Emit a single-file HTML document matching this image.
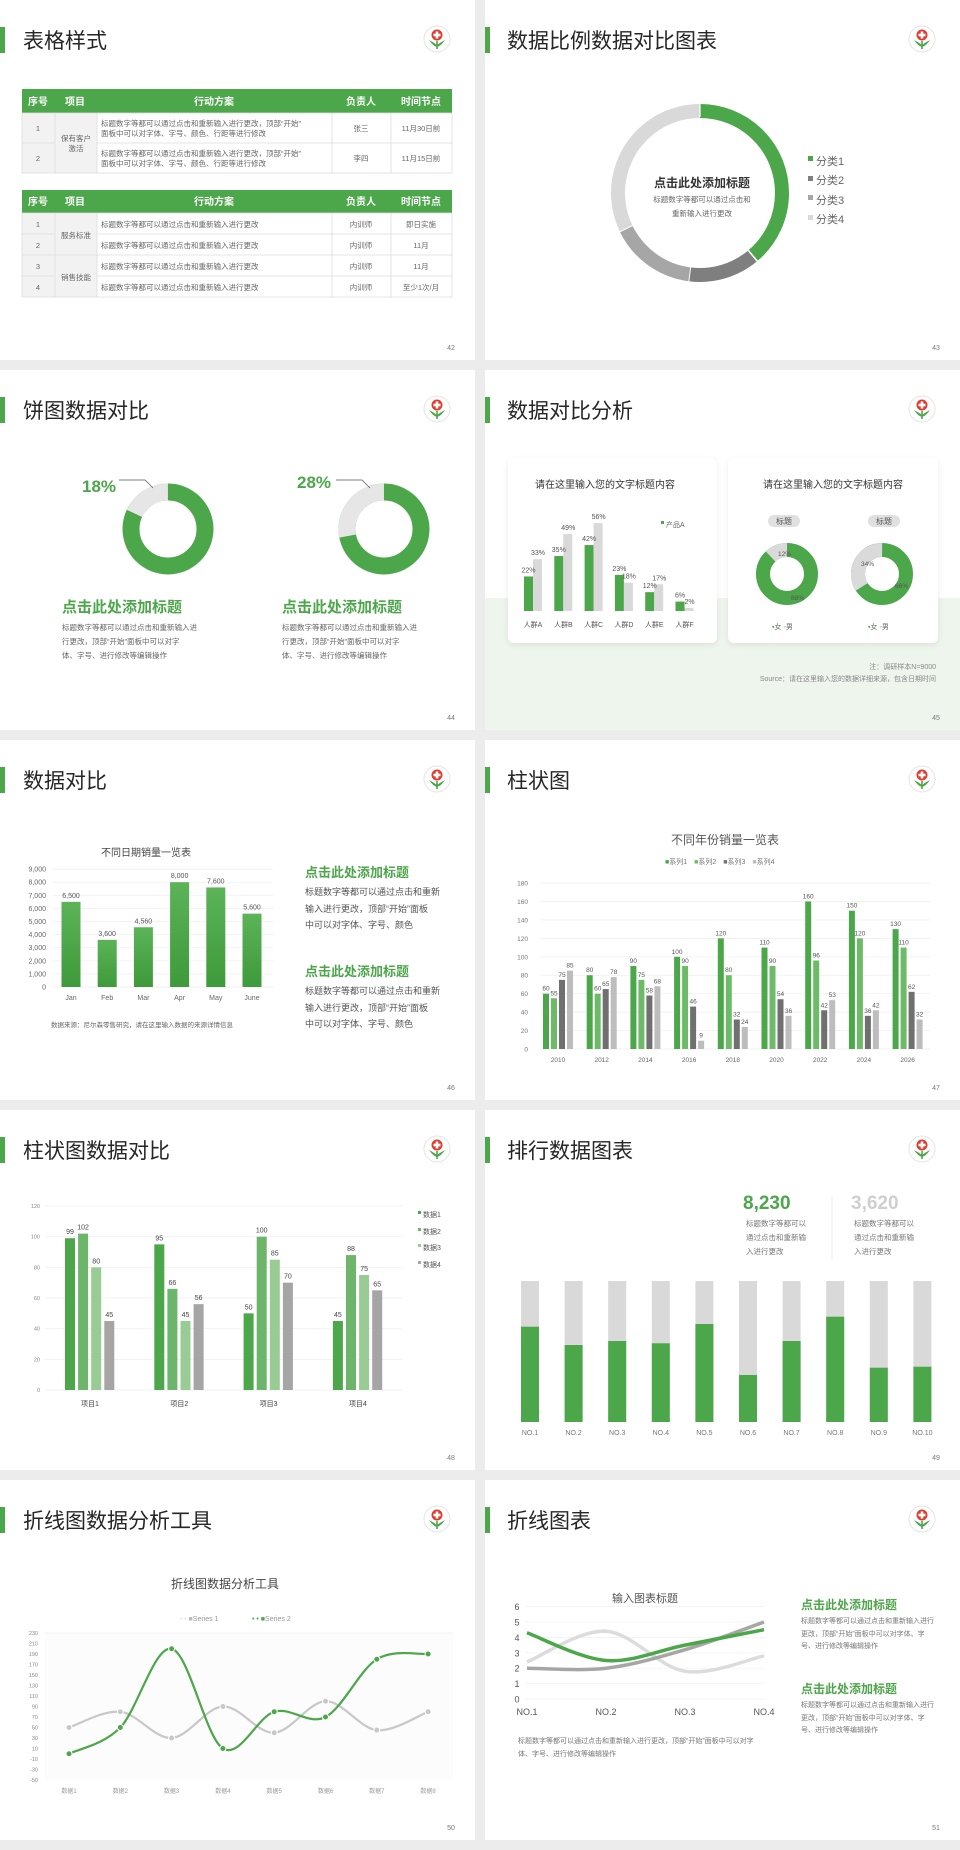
<!DOCTYPE html>
<html><head><meta charset="utf-8">
<style>
html,body{margin:0;padding:0;background:#ececec;}
svg{display:block;font-family:"Liberation Sans","Noto Sans CJK SC",sans-serif;}
.t{font-size:21px;fill:#262626;}
.pn{font-size:7px;fill:#777;}
.hd{font-size:10px;fill:#fff;font-weight:bold;text-anchor:middle;}
.c{font-size:7.5px;fill:#666;}
.cm{font-size:7.5px;fill:#666;text-anchor:middle;}
.gh{font-weight:bold;fill:#4ca64a;}
.ax{font-size:7px;fill:#777;}
</style></head><body>
<svg id="s" width="960" height="1850" viewBox="0 0 960 1850" xmlns="http://www.w3.org/2000/svg">
<defs>
<g id="logo">
<circle r="13" fill="#fff" stroke="#e4e4e4" stroke-width="1"/>
<circle cx="0" cy="-4" r="5.5" fill="#e23a2e"/>
<rect x="-1.3" y="-7.5" width="2.6" height="7" fill="#fff"/>
<rect x="-3.5" y="-5.3" width="7" height="2.6" fill="#fff"/>
<path d="M-8,1 Q-4,7 0,8 Q4,7 8,1 Q4,3 0,6 Q-4,3 -8,1Z" fill="#4ca64a"/>
<rect x="-0.8" y="2" width="1.6" height="8" fill="#4ca64a"/>
</g>
<linearGradient id="bg46" x1="0" y1="0" x2="0" y2="1"><stop offset="0" stop-color="#5cb358"/><stop offset="1" stop-color="#3e9a3b"/></linearGradient>
<filter id="sh" x="-10%" y="-10%" width="120%" height="130%"><feDropShadow dx="0" dy="2" stdDeviation="3" flood-color="#000" flood-opacity="0.08"/></filter>
</defs>
<rect width="960" height="1850" fill="#ececec"/>

<!-- ===== Slide 42 ===== -->
<g transform="translate(0,0)">
<rect x="0" y="0" width="475" height="360" fill="#fff"/>
<rect x="0" y="27" width="5" height="26" fill="#4ca64a"/>
<text class="t" x="23" y="48">表格样式</text>
<use href="#logo" x="437" y="39"/>
<text class="pn" x="451" y="350" text-anchor="middle">42</text>
<rect x="22" y="89" width="430" height="24" fill="#4ca64a"/>
<text class="hd" x="38" y="105">序号</text><text class="hd" x="75" y="105">项目</text><text class="hd" x="214" y="105">行动方案</text><text class="hd" x="361" y="105">负责人</text><text class="hd" x="421" y="105">时间节点</text>
<rect x="22" y="113" width="75" height="60" fill="#f2f2f2"/>
<g stroke="#dcdcdc" stroke-width="0.8" fill="none">
<rect x="22" y="113" width="430" height="60"/>
<line x1="22" y1="143" x2="55" y2="143"/><line x1="97" y1="143" x2="452" y2="143"/>
<line x1="55" y1="113" x2="55" y2="173"/><line x1="97" y1="113" x2="97" y2="173"/><line x1="332" y1="113" x2="332" y2="173"/><line x1="391" y1="113" x2="391" y2="173"/>
</g>
<text class="cm" x="38" y="131">1</text><text class="cm" x="38" y="161">2</text>
<text class="cm" x="76" y="141">保有客户</text><text class="cm" x="76" y="151">激活</text>
<text class="c" x="101" y="126">标题数字等都可以通过点击和重新输入进行更改，顶部“开始”</text>
<text class="c" x="101" y="136">面板中可以对字体、字号、颜色、行距等进行修改</text>
<text class="c" x="101" y="156">标题数字等都可以通过点击和重新输入进行更改，顶部“开始”</text>
<text class="c" x="101" y="166">面板中可以对字体、字号、颜色、行距等进行修改</text>
<text class="cm" x="361" y="131">张三</text><text class="cm" x="361" y="161">李四</text>
<text class="cm" x="421" y="131">11月30日前</text><text class="cm" x="421" y="161">11月15日前</text>

<rect x="22" y="190" width="430" height="23" fill="#4ca64a"/>
<text class="hd" x="38" y="205">序号</text><text class="hd" x="75" y="205">项目</text><text class="hd" x="214" y="205">行动方案</text><text class="hd" x="361" y="205">负责人</text><text class="hd" x="421" y="205">时间节点</text>
<rect x="22" y="213" width="75" height="84" fill="#f2f2f2"/>
<g stroke="#dcdcdc" stroke-width="0.8" fill="none">
<rect x="22" y="213" width="430" height="84"/>
<line x1="22" y1="234" x2="55" y2="234"/><line x1="97" y1="234" x2="452" y2="234"/>
<line x1="22" y1="255" x2="452" y2="255"/>
<line x1="22" y1="276" x2="55" y2="276"/><line x1="97" y1="276" x2="452" y2="276"/>
<line x1="55" y1="213" x2="55" y2="297"/><line x1="97" y1="213" x2="97" y2="297"/><line x1="332" y1="213" x2="332" y2="297"/><line x1="391" y1="213" x2="391" y2="297"/>
</g>
<text class="cm" x="38" y="227">1</text><text class="cm" x="38" y="248">2</text><text class="cm" x="38" y="269">3</text><text class="cm" x="38" y="290">4</text>
<text class="cm" x="76" y="238">服务标准</text><text class="cm" x="76" y="280">销售技能</text>
<text class="c" x="101" y="227">标题数字等都可以通过点击和重新输入进行更改</text>
<text class="c" x="101" y="248">标题数字等都可以通过点击和重新输入进行更改</text>
<text class="c" x="101" y="269">标题数字等都可以通过点击和重新输入进行更改</text>
<text class="c" x="101" y="290">标题数字等都可以通过点击和重新输入进行更改</text>
<text class="cm" x="361" y="227">内训师</text><text class="cm" x="361" y="248">内训师</text><text class="cm" x="361" y="269">内训师</text><text class="cm" x="361" y="290">内训师</text>
<text class="cm" x="421" y="227">即日实施</text><text class="cm" x="421" y="248">11月</text><text class="cm" x="421" y="269">11月</text><text class="cm" x="421" y="290">至少1次/月</text>
</g>

<!-- ===== Slide 43 ===== -->
<g transform="translate(480,0)">
<rect x="5" y="0" width="475" height="360" fill="#fff"/>
<rect x="5" y="27" width="5" height="26" fill="#4ca64a"/>
<text class="t" x="27" y="48">数据比例数据对比图表</text>
<use href="#logo" x="442" y="39"/>
<text class="pn" x="456" y="350" text-anchor="middle">43</text>
<g fill="none" stroke-width="14">
<circle cx="220" cy="193" r="82" stroke="#4ca64a" stroke-dasharray="199.4 600" transform="rotate(-90 220 193)"/>
<circle cx="220" cy="193" r="82" stroke="#7f7f7f" stroke-dasharray="66.3 600" transform="rotate(50.5 220 193)"/>
<circle cx="220" cy="193" r="82" stroke="#a6a6a6" stroke-dasharray="80.6 600" transform="rotate(97.5 220 193)"/>
<circle cx="220" cy="193" r="82" stroke="#d9d9d9" stroke-dasharray="165 600" transform="rotate(154.5 220 193)"/>
</g>
<g stroke="#fff" stroke-width="1.2"><line x1="220" y1="100" x2="220" y2="117"/></g>
<text x="222" y="187" font-size="12" font-weight="bold" fill="#333" text-anchor="middle">点击此处添加标题</text>
<text x="222" y="202" font-size="7.5" fill="#666" text-anchor="middle">标题数字等都可以通过点击和</text>
<text x="222" y="216" font-size="7.5" fill="#666" text-anchor="middle">重新输入进行更改</text>
<rect x="328" y="156" width="5" height="5" fill="#4ca64a"/><text x="336" y="165" font-size="11" fill="#666">分类1</text>
<rect x="328" y="176" width="5" height="5" fill="#7f7f7f"/><text x="336" y="184" font-size="11" fill="#666">分类2</text>
<rect x="328" y="195" width="5" height="5" fill="#a6a6a6"/><text x="336" y="204" font-size="11" fill="#666">分类3</text>
<rect x="328" y="215" width="5" height="5" fill="#d9d9d9"/><text x="336" y="223" font-size="11" fill="#666">分类4</text>
</g>

<!-- ===== Slide 44 ===== -->
<g transform="translate(0,370)">
<rect x="0" y="0" width="475" height="360" fill="#fff"/>
<rect x="0" y="27" width="5" height="26" fill="#4ca64a"/>
<text class="t" x="23" y="48">饼图数据对比</text>
<use href="#logo" x="437" y="39"/>
<text class="pn" x="451" y="350" text-anchor="middle">44</text>
<g fill="none" stroke-width="17">
<circle cx="168" cy="159" r="37" stroke="#4ca64a"/>
<circle cx="168" cy="159" r="37" stroke="#e6e6e6" stroke-dasharray="41.8 300" transform="rotate(-155 168 159)"/>
<circle cx="384" cy="159" r="37" stroke="#4ca64a"/>
<circle cx="384" cy="159" r="37" stroke="#e6e6e6" stroke-dasharray="65.1 300" transform="rotate(-191 384 159)"/>
</g>
<text x="82" y="122" font-size="17" font-weight="bold" fill="#4ca64a">18%</text>
<polyline points="119,110 145,110 153,118" fill="none" stroke="#555" stroke-width="0.7"/>
<text x="297" y="118" font-size="17" font-weight="bold" fill="#4ca64a">28%</text>
<polyline points="336,110 362,110 370,118" fill="none" stroke="#555" stroke-width="0.7"/>
<text class="gh" x="62" y="242" font-size="15">点击此处添加标题</text>
<text x="62" y="260" font-size="7.5" fill="#666">标题数字等都可以通过点击和重新输入进</text>
<text x="62" y="274" font-size="7.5" fill="#666">行更改，顶部“开始”面板中可以对字</text>
<text x="62" y="288" font-size="7.5" fill="#666">体、字号、进行修改等编辑操作</text>
<text class="gh" x="282" y="242" font-size="15">点击此处添加标题</text>
<text x="282" y="260" font-size="7.5" fill="#666">标题数字等都可以通过点击和重新输入进</text>
<text x="282" y="274" font-size="7.5" fill="#666">行更改，顶部“开始”面板中可以对字</text>
<text x="282" y="288" font-size="7.5" fill="#666">体、字号、进行修改等编辑操作</text>
</g>

<!-- ===== Slide 45 ===== -->
<g transform="translate(480,370)">
<rect x="5" y="0" width="475" height="360" fill="#fff"/>
<rect x="5" y="228" width="475" height="132" fill="#eef5ed"/>
<rect x="5" y="27" width="5" height="26" fill="#4ca64a"/>
<text class="t" x="27" y="48">数据对比分析</text>
<use href="#logo" x="442" y="39"/>
<text class="pn" x="456" y="350" text-anchor="middle">45</text>
<rect x="28" y="88" width="209" height="185" rx="6" fill="#fff" filter="url(#sh)"/>
<rect x="248" y="88" width="210" height="185" rx="6" fill="#fff" filter="url(#sh)"/>
<text x="125" y="118" font-size="10" fill="#333" text-anchor="middle">请在这里输入您的文字标题内容</text>
<text x="353" y="118" font-size="10" fill="#333" text-anchor="middle">请在这里输入您的文字标题内容</text>
<g id="bar45"></g>
<rect x="181" y="151" width="3" height="3" fill="#4ca64a"/><text x="186" y="157" font-size="7" fill="#666">产品A</text>
<g fill="none" stroke-width="14">
<circle cx="307" cy="204" r="24" stroke="#4ca64a"/>
<circle cx="307" cy="204" r="24" stroke="#dadada" stroke-dasharray="18.1 300" transform="rotate(-133.2 307 204)"/>
<circle cx="402" cy="204" r="24" stroke="#4ca64a"/>
<circle cx="402" cy="204" r="24" stroke="#dadada" stroke-dasharray="51.3 300" transform="rotate(-212.4 402 204)"/>
</g>
<text x="298" y="186" font-size="6.5" fill="#555">12%</text><text x="311" y="230" font-size="6.5" fill="#555">88%</text>
<text x="381" y="196" font-size="6.5" fill="#555">34%</text><text x="415" y="218" font-size="6.5" fill="#555">66%</text>
<rect x="288" y="145" width="32" height="12" rx="6" fill="#e0e0e0"/><text x="304" y="154" font-size="8" fill="#555" text-anchor="middle">标题</text>
<rect x="388" y="145" width="32" height="12" rx="6" fill="#e0e0e0"/><text x="404" y="154" font-size="8" fill="#555" text-anchor="middle">标题</text>
<text x="292" y="259" font-size="7" fill="#666"><tspan fill="#4ca64a">▪</tspan>女 <tspan fill="#ccc">▪</tspan>男</text>
<text x="388" y="259" font-size="7" fill="#666"><tspan fill="#4ca64a">▪</tspan>女 <tspan fill="#ccc">▪</tspan>男</text>
<text x="456" y="299" font-size="7" fill="#888" text-anchor="end">注：调研样本N=9000</text>
<text x="456" y="311" font-size="7" fill="#888" text-anchor="end">Source：请在这里输入您的数据详细来源，包含日期时间</text>
</g>

<!-- ===== Slide 46 ===== -->
<g transform="translate(0,740)">
<rect x="0" y="0" width="475" height="360" fill="#fff"/>
<rect x="0" y="27" width="5" height="26" fill="#4ca64a"/>
<text class="t" x="23" y="48">数据对比</text>
<use href="#logo" x="437" y="39"/>
<text class="pn" x="451" y="350" text-anchor="middle">46</text>
<text x="146" y="116" font-size="10" fill="#444" text-anchor="middle">不同日期销量一览表</text>
<g id="bar46"></g>
<text x="51" y="287" font-size="6.5" fill="#666">数据来源：尼尔森零售研究，请在这里输入数据的来源详情信息</text>
<text class="gh" x="305" y="137" font-size="13">点击此处添加标题</text>
<text x="305" y="155" font-size="9" fill="#555">标题数字等都可以通过点击和重新</text>
<text x="305" y="172" font-size="9" fill="#555">输入进行更改，顶部“开始”面板</text>
<text x="305" y="188" font-size="9" fill="#555">中可以对字体、字号、颜色</text>
<text class="gh" x="305" y="236" font-size="13">点击此处添加标题</text>
<text x="305" y="254" font-size="9" fill="#555">标题数字等都可以通过点击和重新</text>
<text x="305" y="271" font-size="9" fill="#555">输入进行更改，顶部“开始”面板</text>
<text x="305" y="287" font-size="9" fill="#555">中可以对字体、字号、颜色</text>
</g>

<!-- ===== Slide 47 ===== -->
<g transform="translate(480,740)">
<rect x="5" y="0" width="475" height="360" fill="#fff"/>
<rect x="5" y="27" width="5" height="26" fill="#4ca64a"/>
<text class="t" x="27" y="48">柱状图</text>
<use href="#logo" x="442" y="39"/>
<text class="pn" x="456" y="350" text-anchor="middle">47</text>
<text x="245" y="104" font-size="12" fill="#555" text-anchor="middle">不同年份销量一览表</text>
<text x="185" y="124" font-size="7" fill="#777"><tspan fill="#4ca64a">■</tspan>系列1　<tspan fill="#6dbb68">■</tspan>系列2　<tspan fill="#707070">■</tspan>系列3　<tspan fill="#bdbdbd">■</tspan>系列4</text>
<g id="bar47"></g>
</g>

<!-- ===== Slide 48 ===== -->
<g transform="translate(0,1110)">
<rect x="0" y="0" width="475" height="360" fill="#fff"/>
<rect x="0" y="27" width="5" height="26" fill="#4ca64a"/>
<text class="t" x="23" y="48">柱状图数据对比</text>
<use href="#logo" x="437" y="39"/>
<text class="pn" x="451" y="350" text-anchor="middle">48</text>
<g id="bar48"></g>
<g font-size="7" fill="#555">
<rect x="418" y="101" width="3" height="3" fill="#4ca64a"/><text x="423" y="107">数据1</text>
<rect x="418" y="118" width="3" height="3" fill="#6cb56a"/><text x="423" y="124">数据2</text>
<rect x="418" y="134" width="3" height="3" fill="#98cc94"/><text x="423" y="140">数据3</text>
<rect x="418" y="151" width="3" height="3" fill="#a5a5a5"/><text x="423" y="157">数据4</text>
</g>
</g>

<!-- ===== Slide 49 ===== -->
<g transform="translate(480,1110)">
<rect x="5" y="0" width="475" height="360" fill="#fff"/>
<rect x="5" y="27" width="5" height="26" fill="#4ca64a"/>
<text class="t" x="27" y="48">排行数据图表</text>
<use href="#logo" x="442" y="39"/>
<text class="pn" x="456" y="350" text-anchor="middle">49</text>
<text x="263" y="99" font-size="19" font-weight="bold" fill="#4ca64a">8,230</text>
<text x="371" y="99" font-size="19" font-weight="bold" fill="#cfcfcf">3,620</text>
<line x1="352" y1="86" x2="352" y2="150" stroke="#e6e6e6" stroke-width="0.8"/>
<g font-size="7.5" fill="#777">
<text x="266" y="116">标题数字等都可以</text><text x="266" y="130">通过点击和重新输</text><text x="266" y="144">入进行更改</text>
<text x="374" y="116">标题数字等都可以</text><text x="374" y="130">通过点击和重新输</text><text x="374" y="144">入进行更改</text>
</g>
<g id="bar49"></g>
</g>

<!-- ===== Slide 50 ===== -->
<g transform="translate(0,1480)">
<rect x="0" y="0" width="475" height="360" fill="#fff"/>
<rect x="0" y="27" width="5" height="26" fill="#4ca64a"/>
<text class="t" x="23" y="48">折线图数据分析工具</text>
<use href="#logo" x="437" y="39"/>
<text class="pn" x="451" y="350" text-anchor="middle">50</text>
<text x="225" y="108" font-size="12" fill="#444" text-anchor="middle">折线图数据分析工具</text>
<text x="180" y="141" font-size="7" fill="#999"><tspan fill="#bbb">- - ■</tspan>Series 1</text>
<text x="252" y="141" font-size="7" fill="#999"><tspan fill="#4ca64a">• • ■</tspan>Series 2</text>
<rect x="45" y="153" width="408" height="147" fill="#fcfcfc"/>
<g id="line50"></g>
</g>

<!-- ===== Slide 51 ===== -->
<g transform="translate(480,1480)">
<rect x="5" y="0" width="475" height="360" fill="#fff"/>
<rect x="5" y="27" width="5" height="26" fill="#4ca64a"/>
<text class="t" x="27" y="48">折线图表</text>
<use href="#logo" x="442" y="39"/>
<text class="pn" x="456" y="350" text-anchor="middle">51</text>
<text x="165" y="122" font-size="11" fill="#555" text-anchor="middle">输入图表标题</text>
<g id="line51"></g>
<text x="38" y="263" font-size="7" fill="#777">标题数字等都可以通过点击和重新输入进行更改，顶部“开始”面板中可以对字</text>
<text x="38" y="276" font-size="7" fill="#777">体、字号、进行修改等编辑操作</text>
<text class="gh" x="321" y="129" font-size="12">点击此处添加标题</text>
<g font-size="7" fill="#777"><text x="321" y="143">标题数字等都可以通过点击和重新输入进行</text><text x="321" y="156">更改，顶部“开始”面板中可以对字体、字</text><text x="321" y="168">号、进行修改等编辑操作</text></g>
<text class="gh" x="321" y="213" font-size="12">点击此处添加标题</text>
<g font-size="7" fill="#777"><text x="321" y="227">标题数字等都可以通过点击和重新输入进行</text><text x="321" y="240">更改，顶部“开始”面板中可以对字体、字</text><text x="321" y="252">号、进行修改等编辑操作</text></g>
</g>
</svg>
<script>
var NS="http://www.w3.org/2000/svg";
function el(p,t,a,txt){var e=document.createElementNS(NS,t);for(var k in a)e.setAttribute(k,a[k]);if(txt!==undefined)e.textContent=txt;p.appendChild(e);return e;}
function G(id){return document.getElementById(id);}
// 45
(function(){var g=G("bar45"),gr=[22,35,42,23,12,6],gy=[33,49,56,18,17,2],n=["人群A","人群B","人群C","人群D","人群E","人群F"];
for(var i=0;i<6;i++){var x=44+30.3*i;var h1=gr[i]*1.57,h2=gy[i]*1.57;
el(g,"rect",{x:x,y:241-h1,width:9,height:h1,fill:"#4ca64a"});el(g,"rect",{x:x+9,y:241-h2,width:9,height:h2,fill:"#d9d9d9"});
el(g,"text",{x:x+4.5,y:241-h1-4,"font-size":7,fill:"#555","text-anchor":"middle"},gr[i]+"%");
el(g,"text",{x:x+14,y:241-h2-4,"font-size":7,fill:"#555","text-anchor":"middle"},gy[i]+"%");
el(g,"text",{x:x+9,y:257,"font-size":7,fill:"#555","text-anchor":"middle"},n[i]);}})();
// 46
(function(){var g=G("bar46"),v=[6500,3600,4560,8000,7600,5600],m=["Jan","Feb","Mar","Apr","May","June"],s=13.1/1000;
for(var k=0;k<=9;k++){var y=247-k*13.1;el(g,"line",{x1:53,x2:273,y1:y,y2:y,stroke:"#eee","stroke-width":0.7});
el(g,"text",{x:46,y:y+2.5,"font-size":7,fill:"#666","text-anchor":"end"},k==0?"0":(k+",000"));}
for(var i=0;i<6;i++){var cx=71+36.2*i,h=v[i]*s;el(g,"rect",{x:cx-9.5,y:247-h,width:19,height:h,fill:"url(#bg46)"});
el(g,"text",{x:cx,y:247-h-4,"font-size":7,fill:"#555","text-anchor":"middle"},String(v[i]).replace(/(\d)(\d{3})$/,"$1,$2"));
el(g,"text",{x:cx,y:260,"font-size":7,fill:"#666","text-anchor":"middle"},m[i]);}})();
// 47
(function(){var g=G("bar47"),D=[[60,80,90,100,120,110,160,150,130],[55,60,75,90,80,90,96,120,110],[75,65,58,46,32,54,42,36,62],[85,78,68,9,24,36,53,42,32]],c=["#4ca64a","#6dbb68","#707070","#bdbdbd"],s=0.922;
for(var k=0;k<=9;k++){var y=309-k*20*s;el(g,"line",{x1:60,x2:450,y1:y,y2:y,stroke:"#eee","stroke-width":0.7});el(g,"text",{x:48,y:y+2.5,"font-size":6.5,fill:"#777","text-anchor":"end"},k*20);}
for(var i=0;i<9;i++){var cx=78+43.7*i;for(var j=0;j<4;j++){var h=D[j][i]*s,x=cx-15+8*j;el(g,"rect",{x:x,y:309-h,width:6,height:h,fill:c[j]});
el(g,"text",{x:x+3,y:309-h-3,"font-size":6.5,fill:"#555","text-anchor":"middle"},D[j][i]);}
el(g,"text",{x:cx,y:322,"font-size":6.5,fill:"#666","text-anchor":"middle"},2010+2*i);}})();
// 48
(function(){var g=G("bar48"),D=[[99,102,80,45],[95,66,45,56],[50,100,85,70],[45,88,75,65]],c=["#4ca64a","#6cb56a","#98cc94","#a5a5a5"],s=1.533;
for(var k=0;k<=6;k++){var y=280-k*20*s;el(g,"line",{x1:45,x2:402,y1:y,y2:y,stroke:"#eee","stroke-width":0.7});el(g,"text",{x:40,y:y+2,"font-size":5.5,fill:"#888","text-anchor":"end"},k*20);}
for(var i=0;i<4;i++){var b=65+89.3*i;for(var j=0;j<4;j++){var h=D[i][j]*s,x=b+13.1*j;el(g,"rect",{x:x,y:280-h,width:10,height:h,fill:c[j]});
el(g,"text",{x:x+5,y:280-h-4,"font-size":7,fill:"#444","text-anchor":"middle"},D[i][j]);}
el(g,"text",{x:b+25,y:296,"font-size":7,fill:"#444","text-anchor":"middle"},"项目"+(i+1));}})();
// 49
(function(){var g=G("bar49"),t=[216.7,235,231,233.3,214,265,231,206.7,257.7,256.7];
for(var i=0;i<10;i++){var x=41+43.6*i;el(g,"rect",{x:x,y:171,width:18,height:141,fill:"#d9d9d9"});el(g,"rect",{x:x,y:t[i],width:18,height:312-t[i],fill:"#4ca64a"});
el(g,"text",{x:x+9,y:325,"font-size":7,fill:"#777","text-anchor":"middle"},"NO."+(i+1));}})();
function smooth(P){var d="M"+P[0][0]+","+P[0][1];for(var i=0;i<P.length-1;i++){var p0=P[i-1]||P[i],p1=P[i],p2=P[i+1],p3=P[i+2]||p2;
d+=" C"+(p1[0]+(p2[0]-p0[0])/6)+","+(p1[1]+(p2[1]-p0[1])/6)+" "+(p2[0]-(p3[0]-p1[0])/6)+","+(p2[1]-(p3[1]-p1[1])/6)+" "+p2[0]+","+p2[1];}return d;}
// 50
(function(){var g=G("line50"),yv=function(v){return 153+(230-v)*0.525;};
for(var v=-50;v<=230;v+=20){el(g,"text",{x:38,y:yv(v)+2,"font-size":5.5,fill:"#888","text-anchor":"end"},v);}
el(g,"line",{x1:45,x2:453,y1:153,y2:153,stroke:"#eee","stroke-width":0.6});
var s1=[50,80,30,90,40,100,45,80],s2=[0,50,200,10,80,70,180,190],P1=[],P2=[];
for(var i=0;i<8;i++){var x=69+51.3*i;P1.push([x,yv(s1[i])]);P2.push([x,yv(s2[i])]);el(g,"text",{x:x,y:313,"font-size":6,fill:"#999","text-anchor":"middle"},"数据"+(i+1));}
el(g,"path",{d:smooth(P1),fill:"none",stroke:"#c8c8c8","stroke-width":2.2});
el(g,"path",{d:smooth(P2),fill:"none",stroke:"#4ca64a","stroke-width":2.2});
P1.forEach(function(p){el(g,"circle",{cx:p[0],cy:p[1],r:3,fill:"#c8c8c8",stroke:"#fff","stroke-width":1});});
P2.forEach(function(p){el(g,"circle",{cx:p[0],cy:p[1],r:3,fill:"#4ca64a",stroke:"#fff","stroke-width":1});});})();
// 51
(function(){var g=G("line51"),yv=function(v){return 219-v*15.4;};
for(var k=0;k<=6;k++){var y=yv(k);el(g,"line",{x1:45,x2:285,y1:y,y2:y,stroke:"#f0f0f0","stroke-width":0.7});el(g,"text",{x:37,y:y+3.5,"font-size":9,fill:"#555","text-anchor":"middle"},k);}
var n=["NO.1","NO.2","NO.3","NO.4"],S=[[2.4,4.4,1.8,2.8],[2,2,3.2,5],[4.3,2.5,3.5,4.5]],c=["#dcdcdc","#a6a6a6","#4ca64a"];
for(var i=0;i<4;i++)el(g,"text",{x:47+79*i,y:235,"font-size":9,fill:"#555","text-anchor":"middle"},n[i]);
for(var j=0;j<3;j++){var P=[];for(var i=0;i<4;i++)P.push([47+79*i,yv(S[j][i])]);el(g,"path",{d:smooth(P),fill:"none",stroke:c[j],"stroke-width":3.5});}})();
</script>
</body></html>
